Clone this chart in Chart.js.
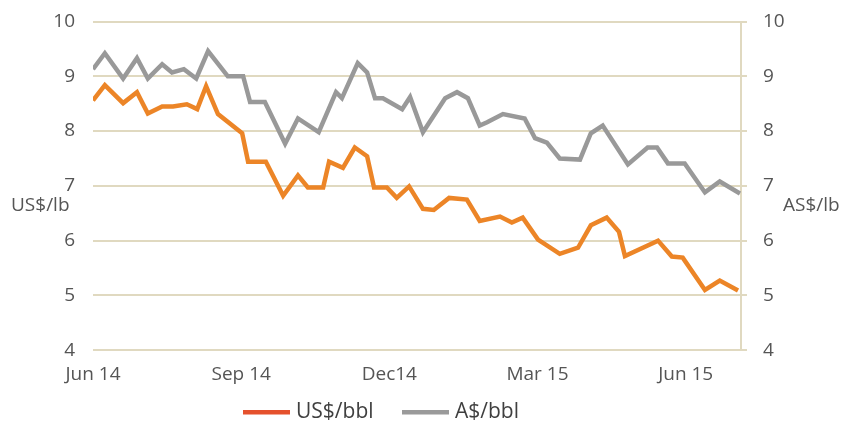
<!DOCTYPE html>
<html>
<head>
<meta charset="utf-8">
<script src="https://cdn.jsdelivr.net/npm/chart.js@4/dist/chart.umd.min.js"></script>
<style>
  html, body { margin: 0; padding: 0; background: #fff; }
  #wrap { width: 843px; height: 423px; }
</style>
</head>
<body>
<div id="wrap"><canvas id="grafico"></canvas></div>
<script>
// months since Jun 14 and prices
const usdMonths = [0, 0.24, 0.61, 0.89, 1.11, 1.40, 1.62, 1.90, 2.11, 2.29, 2.53, 3.02, 3.14, 3.50, 3.85, 4.15, 4.35, 4.66, 4.78, 5.06, 5.30, 5.55, 5.69, 5.95, 6.15, 6.40, 6.68, 6.90, 7.21, 7.57, 7.83, 8.24, 8.48, 8.70, 9.01, 9.45, 9.82, 10.08, 10.40, 10.65, 10.77, 11.44, 11.72, 11.94, 12.39, 12.69, 13.06];
const usdValues = [8.56, 8.84, 8.51, 8.71, 8.32, 8.45, 8.45, 8.49, 8.40, 8.82, 8.31, 7.96, 7.44, 7.44, 6.82, 7.19, 6.97, 6.97, 7.44, 7.33, 7.70, 7.54, 6.97, 6.97, 6.78, 6.99, 6.58, 6.56, 6.78, 6.75, 6.36, 6.44, 6.33, 6.42, 6.02, 5.76, 5.87, 6.28, 6.42, 6.16, 5.72, 6.00, 5.71, 5.69, 5.10, 5.27, 5.09];

const audMonths = [0, 0.24, 0.61, 0.89, 1.11, 1.40, 1.60, 1.84, 2.09, 2.33, 2.73, 3.04, 3.18, 3.48, 3.89, 4.15, 4.57, 4.92, 5.04, 5.36, 5.55, 5.71, 5.87, 6.26, 6.42, 6.68, 7.13, 7.37, 7.59, 7.83, 7.98, 8.30, 8.74, 8.95, 9.19, 9.45, 9.86, 10.08, 10.32, 10.83, 11.23, 11.42, 11.64, 11.98, 12.39, 12.69, 13.10];
const audValues = [9.13, 9.42, 8.96, 9.33, 8.96, 9.22, 9.07, 9.13, 8.96, 9.46, 9.00, 9.00, 8.53, 8.53, 7.77, 8.23, 7.98, 8.71, 8.60, 9.24, 9.07, 8.60, 8.60, 8.40, 8.62, 7.98, 8.60, 8.71, 8.60, 8.10, 8.16, 8.31, 8.23, 7.87, 7.79, 7.50, 7.48, 7.96, 8.10, 7.39, 7.70, 7.70, 7.41, 7.41, 6.88, 7.08, 6.86];

const tickMonths = [0, 3, 6, 9, 12];
const tickLabels = ['Jun 14', 'Sep 14', 'Dec14', 'Mar 15', 'Jun 15'];
const seriesNames = ['US$/bbl', 'A$/bbl'];
const legendColors = ['#e5512d', '#9a9a9a'];

const beige = '#e0d9c0';
const textGray = '#555555';

function puntos(xs, ys) {
    return xs.map(function(x, i) { return { x: x, y: ys[i] }; });
}

// fixed width, no extra overhang padding above/below
function ajustarEje(ancho) {
    return function(scale) {
        scale.width = ancho;
        scale.paddingTop = 0;
        scale.paddingBottom = 0;
    };
}

// horizontal axis titles on both sides + legend under the x labels
const extras = {
    id: 'extras',
    afterDraw: function(chart) {
        const ctx = chart.ctx;
        const area = chart.chartArea;
        const yMid = (area.top + area.bottom) / 2 + 20;
        ctx.save();
        ctx.font = '19px "Open Sans"';
        ctx.fillStyle = textGray;
        ctx.textBaseline = 'middle';
        ctx.textAlign = 'left';
        ctx.fillText('US$/lb', 11, yMid);
        ctx.fillText('AS$/lb', 783, yMid);

        // legend
        const legendY = 412;
        const swatchX = [243, 402];
        ctx.font = '21px "Open Sans"';
        chart.data.datasets.forEach(function(ds, i) {
            ctx.fillStyle = legendColors[i];
            ctx.fillRect(swatchX[i], legendY - 2, 47, 4.5);
            ctx.fillStyle = '#3f3f3f';
            ctx.fillText(ds.label, swatchX[i] + 53, legendY);
        });
        ctx.restore();
    }
};

const ctx = document.getElementById('grafico').getContext('2d');
new Chart(ctx, {
    type: 'line',
    data: {
        datasets: [
            {
                label: seriesNames[0],
                data: puntos(usdMonths, usdValues),
                borderColor: '#ec8527',
                borderWidth: 4.5,
                pointRadius: 0,
                tension: 0,
                yAxisID: 'y'
            },
            {
                label: seriesNames[1],
                data: puntos(audMonths, audValues),
                borderColor: '#999999',
                borderWidth: 4.5,
                pointRadius: 0,
                tension: 0,
                yAxisID: 'y2'
            }
        ]
    },
    options: {
        responsive: true,
        maintainAspectRatio: false,
        animation: false,
        layout: { padding: { left: 0, right: 0, top: 21.5, bottom: 32 } },
        plugins: {
            tooltip: { enabled: false },
            legend: { display: false }
        },
        scales: {
            x: {
                type: 'linear',
                min: 0,
                max: 13.12,
                afterBuildTicks: function(scale) {
                    scale.ticks = tickMonths.map(function(v) { return { value: v }; });
                },
                ticks: {
                    padding: 5,
                    maxRotation: 0,
                    autoSkip: false,
                    color: textGray,
                    font: { family: 'Open Sans', size: 19 },
                    callback: function(value) {
                        const i = tickMonths.indexOf(value);
                        return i >= 0 ? tickLabels[i] : '';
                    }
                },
                grid: { display: false },
                border: { display: false }
            },
            y: {
                position: 'left',
                min: 4,
                max: 10,
                afterFit: ajustarEje(93),
                ticks: {
                    stepSize: 1,
                    padding: 18,
                    color: textGray,
                    font: { family: 'Open Sans', size: 19 }
                },
                grid: { color: beige, lineWidth: 2, drawTicks: false },
                border: { display: false }
            },
            y2: {
                position: 'right',
                min: 4,
                max: 10,
                afterFit: ajustarEje(102),
                ticks: {
                    stepSize: 1,
                    padding: 16,
                    color: textGray,
                    font: { family: 'Open Sans', size: 19 }
                },
                grid: { drawOnChartArea: false, color: beige, lineWidth: 2, tickLength: 6 },
                border: { display: true, color: beige, width: 2 }
            }
        }
    },
    plugins: [extras]
});
</script>
</body>
</html>
